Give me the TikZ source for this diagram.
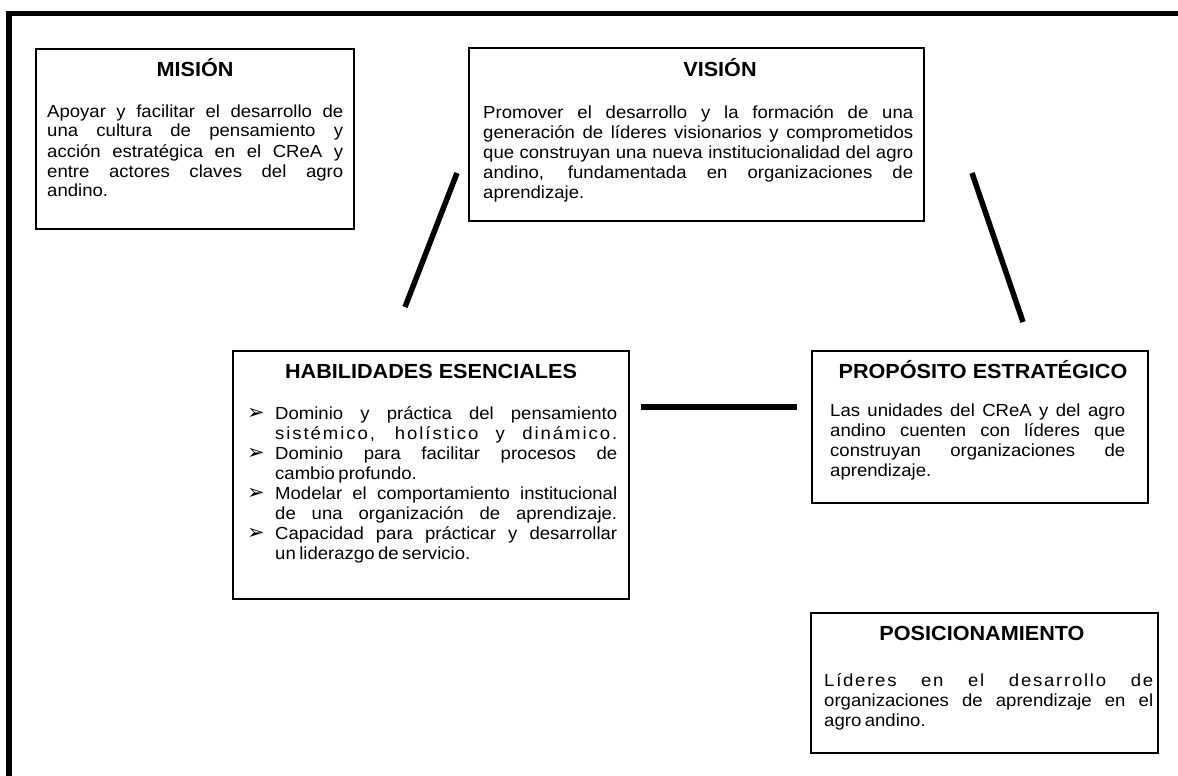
\documentclass[tikz,border=0pt]{standalone}
\usepackage{fontspec}
\setmainfont{Liberation Sans}[FakeStretch=1.06]
\newfontfamily\dingfont{DejaVu Sans}
\newcommand\habitem{\noindent\hangindent=28pt\hangafter=1\makebox[28pt][l]{\raisebox{-0.5pt}{\dingfont\fontsize{21}{21}\selectfont ➢}}}
\newcommand\tightsp{\spaceskip=0.2em\relax}
\tikzset{
  box/.style={draw, line width=1.6pt, inner sep=0pt, anchor=north west},
  headtxt/.style={font=\bfseries\fontsize{20.4}{22}\selectfont, anchor=base, inner sep=0pt},
  bodytxt/.style={font=\fontsize{17.5}{20}\selectfont, align=justify, anchor=base west, inner sep=0pt},
  link/.style={line width=5.5pt},
  hlink/.style={line width=6.5pt},
  frame/.style={line width=5.5pt}
}
\begin{document}
\begin{tikzpicture}[x=1pt,y=-1pt]
\useasboundingbox (0,0) rectangle (1178,776);
\clip (0,0) rectangle (1178,776);
\draw[frame] (9,13.5) rectangle (1200,800);

% boxes
\node[box, minimum width=318pt, minimum height=180pt] (mis) at (35,48) {};
\node[box, minimum width=455pt, minimum height=173pt] (vis) at (468,47) {};
\node[box, minimum width=396pt, minimum height=248pt] (hab) at (232,350) {};
\node[box, minimum width=336pt, minimum height=152pt] (pro) at (811,350) {};
\node[box, minimum width=347pt, minimum height=140pt] (pos) at (810,612) {};

% headings
\node[headtxt] (misT) at (195,77) {MISIÓN};
\node[headtxt] (visT) at (720,77) {VISIÓN};
\node[headtxt] (habT) at (431,378) {HABILIDADES ESENCIALES};
\node[headtxt] (proT) at (983,378) {PROPÓSITO ESTRATÉGICO};
\node[headtxt] (posT) at (982,640) {POSICIONAMIENTO};

% bodies
\node[bodytxt, text width=296pt] (misB) at (47,117) {Apoyar y facilitar el desarrollo de\linebreak una cultura de pensamiento y\linebreak acción estratégica en el CReA y\linebreak entre actores claves del agro\linebreak andino.};
\node[bodytxt, text width=430pt] (visB) at (483,118) {Promover el desarrollo y la formación de una\linebreak generación de líderes visionarios y comprometidos\linebreak que construyan una nueva institucionalidad del agro\linebreak andino, fundamentada en organizaciones de\linebreak aprendizaje.};
\node[bodytxt, text width=370pt] (habB) at (247,419) {%
\habitem Dominio y práctica del pensamiento\linebreak {\addfontfeatures{LetterSpace=11}sistémico, holístico y dinámico.}\parfillskip=0pt\par
\habitem Dominio para facilitar procesos de\linebreak {\tightsp cambio profundo.}\par
\habitem Modelar el comportamiento institucional\linebreak de una organización de aprendizaje.\parfillskip=0pt\par
\habitem Capacidad para prácticar y desarrollar\linebreak {\tightsp un liderazgo de servicio.}\par};
\node[bodytxt, text width=295pt] (proB) at (830,416) {Las unidades del CReA y del agro\linebreak andino cuenten con líderes que\linebreak construyan organizaciones de\linebreak aprendizaje.};
\node[bodytxt, text width=329pt] (posB) at (824,686) {{\addfontfeatures{LetterSpace=10}Líderes en el desarrollo de}\linebreak organizaciones de aprendizaje en el\linebreak {\tightsp agro andino.}};

% connector end points
\coordinate (l1a) at (457,173);
\coordinate (l1b) at (405,307);
\coordinate (l2a) at (972,173);
\coordinate (l2b) at (1023,322);
\coordinate (l3a) at (641,407);
\coordinate (l3b) at (797,407);
\draw[link] (l1a) -- (l1b);
\draw[link] (l2a) -- (l2b);
\draw[hlink] (l3a) -- (l3b);
\end{tikzpicture}
\end{document}
